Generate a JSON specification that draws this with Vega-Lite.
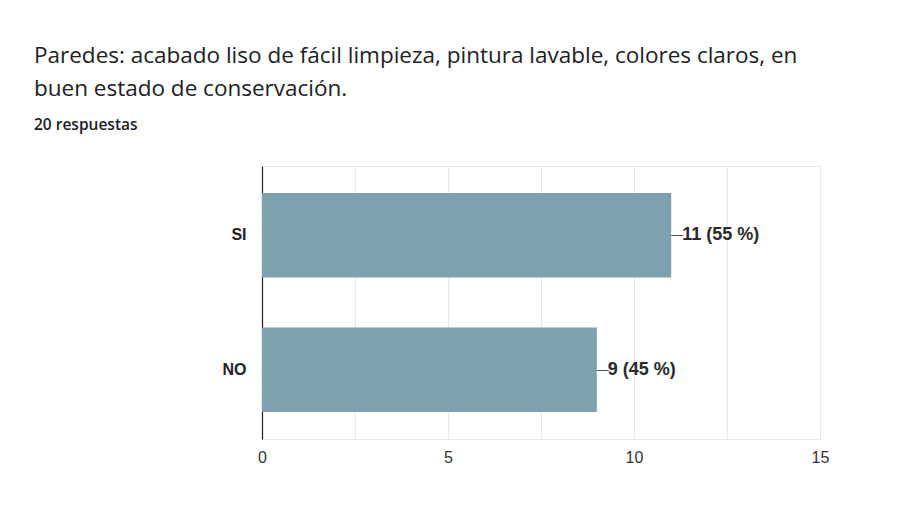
{
  "$schema": "https://vega.github.io/schema/vega-lite/v6.json",
  "autosize": {"type": "none"},
  "padding": {"left": 262, "top": 166, "right": 92, "bottom": 73},
  "width": 558,
  "height": 273,
  "background": "white",
  "title": {
    "text": ["Paredes: acabado liso de fácil limpieza, pintura lavable, colores claros, en", "buen estado de conservación."],
    "subtitle": "20 respuestas",
    "anchor": "start",
    "frame": "group",
    "dx": -228,
    "offset": 33,
    "font": "Open Sans",
    "fontSize": 22.5,
    "fontWeight": "normal",
    "color": "#202124",
    "lineHeight": 33,
    "subtitleFont": "Open Sans",
    "subtitleFontSize": 15.5,
    "subtitleFontWeight": 600,
    "subtitleColor": "#202124",
    "subtitlePadding": 17
  },
  "data": {
    "values": [
      {"respuesta": "SI", "count": 11, "label": "11 (55 %)"},
      {"respuesta": "NO", "count": 9, "label": "9 (45 %)"}
    ]
  },
  "encoding": {
    "y": {
      "field": "respuesta", "type": "nominal", "sort": ["SI", "NO"],
      "scale": {"paddingInner": 0.37, "paddingOuter": 0.2},
      "axis": {"title": null, "ticks": false, "domain": true, "domainColor": "#222", "domainWidth": 1.2, "labelPadding": 16, "labelFont": "Liberation Sans", "labelFontSize": 16, "labelFontWeight": "bold", "labelColor": "#222", "grid": false}
    },
    "x": {
      "field": "count", "type": "quantitative",
      "scale": {"domain": [0, 15], "nice": false},
      "axis": {"title": null, "values": [0, 2.5, 5, 7.5, 10, 12.5, 15], "labelExpr": "datum.value % 5 == 0 ? datum.label : ''", "labelFlush": false, "ticks": false, "domain": false, "grid": true, "gridColor": "#e8e8e8", "labelFont": "Liberation Sans", "labelFontSize": 16, "labelColor": "#333", "labelPadding": 10}
    }
  },
  "layer": [
    {"mark": {"type": "bar", "color": "#7ea1b0"}},
    {"mark": {"type": "text", "align": "left", "baseline": "middle", "dx": 0, "font": "Liberation Sans", "fontSize": 12, "color": "#555", "text": "—"}},
    {"mark": {"type": "text", "align": "left", "baseline": "middle", "dx": 11, "font": "Liberation Sans", "fontSize": 18, "fontWeight": "bold", "color": "#2a2a2a"}, "encoding": {"text": {"field": "label"}}}
  ],
  "config": {
    "view": {"stroke": "#e8e8e8"}
  }
}
